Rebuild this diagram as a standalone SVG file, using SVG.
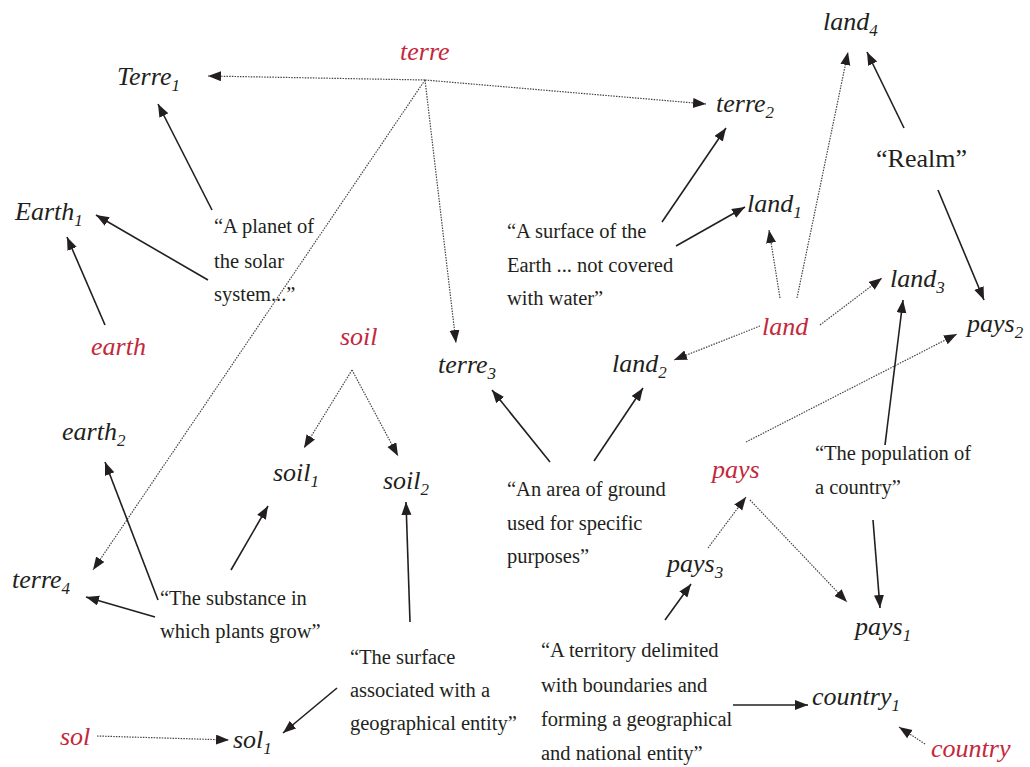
<svg xmlns="http://www.w3.org/2000/svg" width="1030" height="767" viewBox="0 0 1030 767">
  <style>
    .lbl { font-family: "Liberation Serif", "DejaVu Serif", serif; font-style: italic; font-size: 26px; fill: #231f20; }
    .lem { font-family: "Liberation Serif", "DejaVu Serif", serif; font-style: italic; font-size: 26px; fill: #c4283c; }
    .sub { font-size: 17px; }
    .gl { font-family: "Liberation Serif", "DejaVu Serif", serif; font-size: 20.5px; fill: #231f20; }
    .big { font-family: "Liberation Serif", "DejaVu Serif", serif; font-size: 26px; fill: #231f20; }
    .solid { stroke: #231f20; stroke-width: 1.6; fill: none; marker-end: url(#ah); }
    .dot { stroke: #444; stroke-width: 1.2; stroke-dasharray: 1.5 1.2; fill: none; marker-end: url(#ah); }
  </style>
  <defs>
    <marker id="ah" markerUnits="userSpaceOnUse" markerWidth="14" markerHeight="12" refX="13" refY="5" orient="auto">
      <path d="M0,0 L13,5 L0,10 z" fill="#231f20"/>
    </marker>
  </defs>
  <rect width="1030" height="767" fill="#ffffff"/>

  <!-- connectors -->
  <g id="connectors">
    <!-- terre -->
    <line class="dot" x1="425" y1="80" x2="208" y2="76"/>
    <line class="dot" x1="425" y1="80" x2="706" y2="104"/>
    <line class="dot" x1="425" y1="80" x2="456" y2="343"/>
    <line class="dot" x1="425" y1="80" x2="93" y2="570"/>
    <!-- planet gloss -->
    <line class="solid" x1="212" y1="210" x2="158" y2="104"/>
    <line class="solid" x1="208" y1="280" x2="96" y2="215"/>
    <line class="solid" x1="105" y1="325" x2="67" y2="237"/>
    <!-- surface gloss -->
    <line class="solid" x1="662" y1="222" x2="726" y2="128"/>
    <line class="solid" x1="676" y1="246" x2="745" y2="207"/>
    <!-- land -->
    <line class="dot" x1="780" y1="298" x2="769" y2="230"/>
    <line class="dot" x1="797" y1="298" x2="848" y2="52"/>
    <line class="dot" x1="820" y1="325" x2="882" y2="278"/>
    <line class="dot" x1="760" y1="326" x2="674" y2="360"/>
    <!-- Realm -->
    <line class="solid" x1="904" y1="128" x2="867" y2="52"/>
    <line class="solid" x1="938" y1="190" x2="984" y2="300"/>
    <!-- population gloss -->
    <line class="solid" x1="885" y1="445" x2="903" y2="300"/>
    <line class="solid" x1="873" y1="520" x2="880" y2="608"/>
    <!-- pays -->
    <line class="dot" x1="746" y1="442" x2="957" y2="334"/>
    <line class="dot" x1="708" y1="548" x2="746" y2="497"/>
    <line class="dot" x1="750" y1="500" x2="847" y2="602"/>
    <!-- area gloss -->
    <line class="solid" x1="550" y1="462" x2="492" y2="390"/>
    <line class="solid" x1="594" y1="461" x2="643" y2="388"/>
    <!-- soil -->
    <line class="dot" x1="352" y1="370" x2="304" y2="448"/>
    <line class="dot" x1="352" y1="370" x2="398" y2="456"/>
    <!-- substance gloss -->
    <line class="solid" x1="158" y1="600" x2="105" y2="462"/>
    <line class="solid" x1="155" y1="617" x2="86" y2="597"/>
    <line class="solid" x1="231" y1="570" x2="268" y2="506"/>
    <!-- geographical surface gloss -->
    <line class="solid" x1="410" y1="622" x2="406" y2="502"/>
    <line class="solid" x1="337" y1="688" x2="283" y2="733"/>
    <line class="dot" x1="97" y1="736" x2="229" y2="740"/>
    <!-- territory gloss -->
    <line class="solid" x1="665" y1="620" x2="691" y2="584"/>
    <line class="solid" x1="733" y1="705" x2="808" y2="705"/>
    <line class="dot" x1="925" y1="744" x2="899" y2="727"/>
  </g>

  <!-- lemmas -->
  <g id="lemma-terre"><text class="lem" x="400" y="60">terre</text></g>
  <g id="lemma-earth"><text class="lem" x="91" y="355">earth</text></g>
  <g id="lemma-soil"><text class="lem" x="340" y="345">soil</text></g>
  <g id="lemma-land"><text class="lem" x="762" y="335">land</text></g>
  <g id="lemma-pays"><text class="lem" x="712" y="478">pays</text></g>
  <g id="lemma-sol"><text class="lem" x="60" y="745">sol</text></g>
  <g id="lemma-country"><text class="lem" x="931" y="757">country</text></g>

  <!-- senses -->
  <g id="sense-Terre1"><text class="lbl" x="117" y="85">Terre<tspan class="sub" dy="6">1</tspan></text></g>
  <g id="sense-terre2"><text class="lbl" x="716" y="112">terre<tspan class="sub" dy="6">2</tspan></text></g>
  <g id="sense-terre3"><text class="lbl" x="438" y="373">terre<tspan class="sub" dy="6">3</tspan></text></g>
  <g id="sense-terre4"><text class="lbl" x="12" y="588">terre<tspan class="sub" dy="6">4</tspan></text></g>
  <g id="sense-Earth1"><text class="lbl" x="15" y="220">Earth<tspan class="sub" dy="6">1</tspan></text></g>
  <g id="sense-earth2"><text class="lbl" x="62" y="440">earth<tspan class="sub" dy="6">2</tspan></text></g>
  <g id="sense-land1"><text class="lbl" x="747" y="212">land<tspan class="sub" dy="6">1</tspan></text></g>
  <g id="sense-land2"><text class="lbl" x="612" y="372">land<tspan class="sub" dy="6">2</tspan></text></g>
  <g id="sense-land3"><text class="lbl" x="890" y="287">land<tspan class="sub" dy="6">3</tspan></text></g>
  <g id="sense-land4"><text class="lbl" x="823" y="30">land<tspan class="sub" dy="6">4</tspan></text></g>
  <g id="sense-pays1"><text class="lbl" x="855" y="635">pays<tspan class="sub" dy="6">1</tspan></text></g>
  <g id="sense-pays2"><text class="lbl" x="967" y="332">pays<tspan class="sub" dy="6">2</tspan></text></g>
  <g id="sense-pays3"><text class="lbl" x="667" y="572">pays<tspan class="sub" dy="6">3</tspan></text></g>
  <g id="sense-soil1"><text class="lbl" x="273" y="481">soil<tspan class="sub" dy="6">1</tspan></text></g>
  <g id="sense-soil2"><text class="lbl" x="383" y="489">soil<tspan class="sub" dy="6">2</tspan></text></g>
  <g id="sense-sol1"><text class="lbl" x="233" y="748">sol<tspan class="sub" dy="6">1</tspan></text></g>
  <g id="sense-country1"><text class="lbl" x="812" y="705">country<tspan class="sub" dy="6">1</tspan></text></g>

  <!-- glosses -->
  <g id="gloss-planet">
    <text class="gl" x="214" y="233">“A planet of</text>
    <text class="gl" x="214" y="268">the solar</text>
    <text class="gl" x="214" y="301">system...”</text>
  </g>
  <g id="gloss-surface">
    <text class="gl" x="507" y="238">“A surface of the</text>
    <text class="gl" x="507" y="272">Earth ... not covered</text>
    <text class="gl" x="507" y="305">with water”</text>
  </g>
  <g id="gloss-realm"><text class="big" x="876" y="167">“Realm”</text></g>
  <g id="gloss-population">
    <text class="gl" x="815" y="460">“The population of</text>
    <text class="gl" x="815" y="494">a country”</text>
  </g>
  <g id="gloss-area">
    <text class="gl" x="507" y="496">“An area of ground</text>
    <text class="gl" x="507" y="530">used for specific</text>
    <text class="gl" x="507" y="563">purposes”</text>
  </g>
  <g id="gloss-substance">
    <text class="gl" x="160" y="605">“The substance in</text>
    <text class="gl" x="160" y="638">which plants grow”</text>
  </g>
  <g id="gloss-geo-surface">
    <text class="gl" x="350" y="664">“The surface</text>
    <text class="gl" x="350" y="697">associated with a</text>
    <text class="gl" x="350" y="730">geographical entity”</text>
  </g>
  <g id="gloss-territory">
    <text class="gl" x="541" y="657">“A territory delimited</text>
    <text class="gl" x="541" y="692">with boundaries and</text>
    <text class="gl" x="541" y="726">forming a geographical</text>
    <text class="gl" x="541" y="760">and national entity”</text>
  </g>
</svg>
